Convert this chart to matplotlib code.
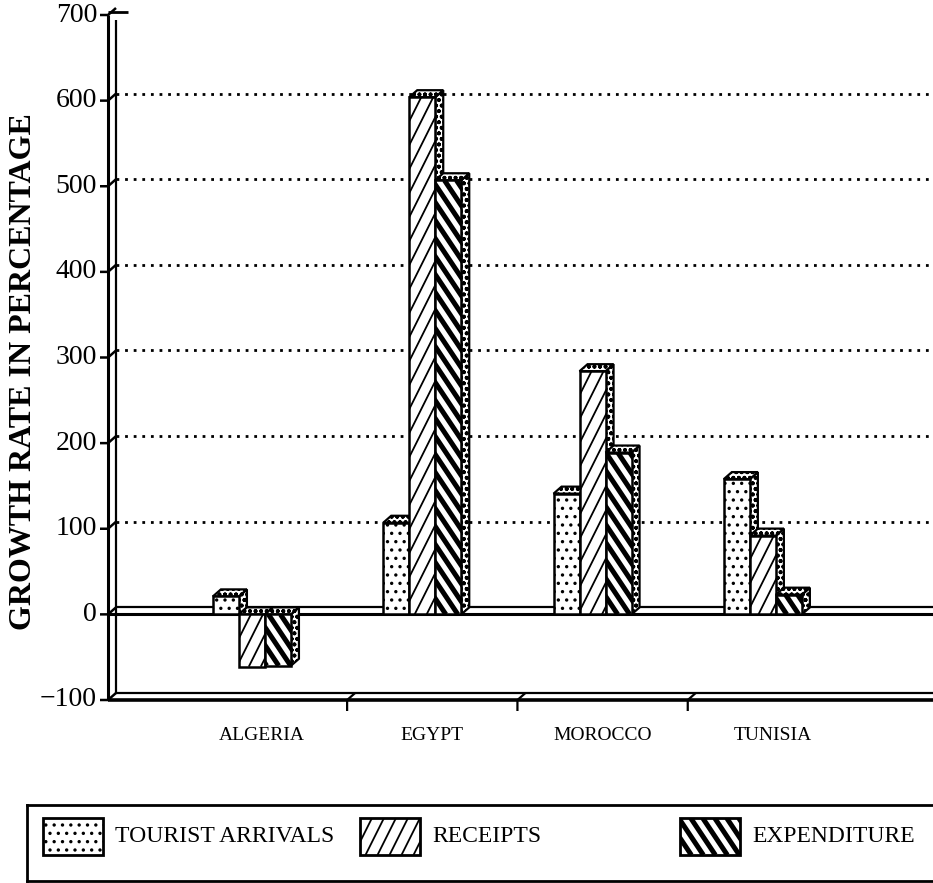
import matplotlib

matplotlib.use("Agg")
import matplotlib.pyplot as plt
import numpy as np
from matplotlib.collections import LineCollection
from matplotlib.patches import Polygon, Rectangle

# growth rates in percent
countries = ["ALGERIA", "EGYPT", "MOROCCO", "TUNISIA"]
tourist_arrivals = [21, 107, 141, 158]
receipts = [-61, 604, 284, 92]
expenditure = [-60, 507, 189, 23]
series_names = ["TOURIST ARRIVALS", "RECEIPTS", "EXPENDITURE"]
y_ticks = [-100, 0, 100, 200, 300, 400, 500, 600, 700]
grid_levels = [100, 200, 300, 400, 500, 600]

W, H, DPI = 933, 883, 100
plt.rcParams["font.family"] = ["Liberation Serif", "DejaVu Serif"]
plt.rcParams["hatch.linewidth"] = 1.2
plt.rcParams["hatch.color"] = "black"

fig = plt.figure(figsize=(W / DPI, H / DPI), dpi=DPI)

# plot box in pixels (front plane)
left_px, right_px, top_px, bottom_px = 108, 933, 15, 700
ax = fig.add_axes([left_px / W, 1 - bottom_px / H,
                   (right_px - left_px) / W, (bottom_px - top_px) / H])
XMIN, XMAX = -0.904, 3.94
YMIN, YMAX = -100, 700
ax.set_xlim(XMIN, XMAX)
ax.set_ylim(YMIN, YMAX)
ax.axis("off")

sx = (right_px - left_px) / (XMAX - XMIN)  # pixels per x unit
sy = (bottom_px - top_px) / (YMAX - YMIN)  # pixels per y unit
DX, DY = 8 / sx, 7 / sy  # depth of the pseudo 3d box


def stripes(axis, patch, x0, y0, w, h, px, py, slope, gap, lw):
    """Diagonal line fill clipped to a patch; slope and gap in pixels."""
    wp, hp = w * px, abs(h) * py
    yb = min(y0, y0 + h)
    run = hp / abs(slope)
    segs = []
    for c in np.arange(-run - gap, wp + run + gap, gap):
        u1 = c + run if slope > 0 else c - run
        segs.append([(x0 + c / px, yb), (x0 + u1 / px, yb + hp / py)])
    lc = LineCollection(segs, colors="black", linewidths=lw,
                        zorder=patch.get_zorder() + 0.001)
    axis.add_collection(lc)
    lc.set_clip_path(patch)


def fill_face(axis, patch, kind, x0, y0, w, h, px, py):
    if kind == 0:
        patch.set_hatch("..")
    elif kind == 1:
        stripes(axis, patch, x0, y0, w, h, px, py, 2.0, 12, 1.3)
    else:
        stripes(axis, patch, x0, y0, w, h, px, py, -1.5, 12, 3.6)


# --- walls, floor and grid ---
line_kw = dict(color="black", clip_on=False, solid_capstyle="butt")
ax.plot([XMIN, XMIN], [YMIN, YMAX], lw=2.2, **line_kw)
ax.plot([XMIN + DX, XMIN + DX], [YMIN + DY, YMAX - 5 / sy], lw=1.6, **line_kw)
ax.plot([XMIN, XMIN + 2.5 * DX], [YMAX + 3 / sy] * 2, lw=2, **line_kw)
ax.plot([XMIN, XMAX], [YMIN, YMIN], lw=2.6, **line_kw)
ax.plot([XMIN + DX, XMAX], [YMIN + DY, YMIN + DY], lw=1.6, **line_kw)
ax.plot([XMIN, XMAX], [0, 0], lw=2.2, **line_kw)
ax.plot([XMIN + DX, XMAX], [DY, DY], lw=1.6, **line_kw)
for g in grid_levels:
    ax.plot([XMIN + DX, XMAX], [g + DY, g + DY], color="black", lw=2.0,
            linestyle=(0, (1, 2.1)), zorder=1)

for t in y_ticks:
    ax.plot([XMIN - 8 / sx, XMIN, XMIN + DX], [t, t, t + DY], lw=1.8, **line_kw)
    label = str(t).replace("-", "\u2212")
    ax.text(XMIN - 11 / sx, t, label, ha="right", va="center", fontsize=20)

for i in range(len(countries) - 1):
    c = i + 0.5
    ax.plot([c + DX, c, c], [YMIN + DY, YMIN, YMIN - 11 / sy], lw=1.6, **line_kw)

for i, name in enumerate(countries):
    ax.text(i, YMIN - 35 / sy, name, ha="center", va="center", fontsize=14)

# --- bars ---
BAR_W = 0.1527
GROUP_OFF = -0.288
order = 0
for i in range(len(countries)):
    for k, values in enumerate([tourist_arrivals, receipts, expenditure]):
        v = values[i]
        x0 = i + GROUP_OFF + k * BAR_W
        x1 = x0 + BAR_W
        lo, hi = min(v, 0), max(v, 0)
        z = 3 + order * 0.01
        order += 1
        side = Polygon([(x1, lo), (x1 + DX, lo + DY), (x1 + DX, hi + DY), (x1, hi)],
                       closed=True, facecolor="white", edgecolor="black",
                       lw=1.6, hatch="ooo", zorder=z)
        top = Polygon([(x0, hi), (x1, hi), (x1 + DX, hi + DY), (x0 + DX, hi + DY)],
                      closed=True, facecolor="white", edgecolor="black",
                      lw=1.6, hatch="ooo", zorder=z + 0.001)
        ax.add_patch(side)
        ax.add_patch(top)
        bar = ax.bar(x0, v, BAR_W, align="edge", color="white",
                     edgecolor="black", lw=1.8, zorder=z + 0.002)[0]
        fill_face(ax, bar, k, x0, 0, BAR_W, v, sx, sy)

# y axis title
fig.text(24 / W, 1 - 372 / H, "GROWTH RATE IN PERCENTAGE", rotation=90,
         ha="center", va="center", fontsize=23, fontweight="bold")

# --- legend box ---
lg_left, lg_top, lg_bottom = 27, 805, 881
lax = fig.add_axes([lg_left / W, 1 - lg_bottom / H, (W - lg_left) / W + 0.02,
                    (lg_bottom - lg_top) / H])
lax_w = W - lg_left + 0.02 * W
lax.set_xlim(0, lax_w)
lax.set_ylim(0, lg_bottom - lg_top)
lax.set_xticks([])
lax.set_yticks([])
lax.spines["right"].set_visible(False)
for s in ("left", "top", "bottom"):
    lax.spines[s].set_linewidth(2)

swatch_x = [16, 333, 653]
for k, (sxp, name) in enumerate(zip(swatch_x, series_names)):
    sw = Rectangle((sxp, 26), 60, 37, facecolor="white", edgecolor="black",
                   lw=2, zorder=2)
    lax.add_patch(sw)
    fill_face(lax, sw, k, sxp, 26, 60, 37, 1, 1)
    lax.text(sxp + 72, 45, name, ha="left", va="center", fontsize=17)

fig.savefig("out.png", dpi=DPI)
